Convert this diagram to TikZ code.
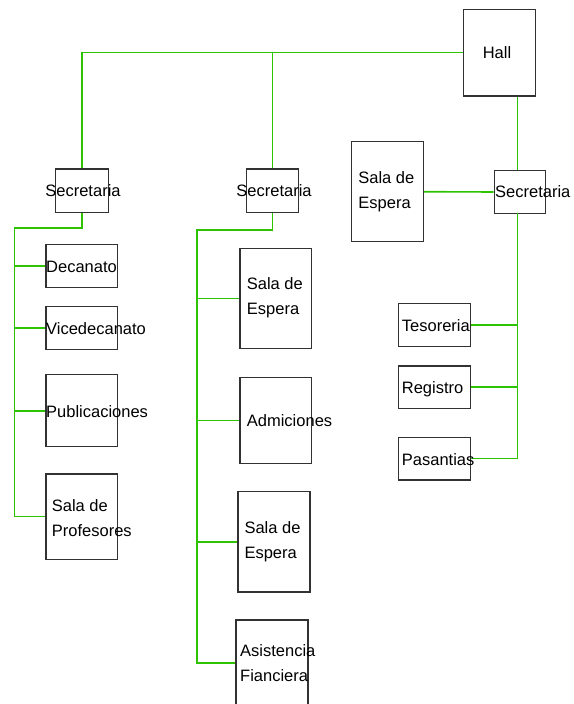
\documentclass[tikz,border=0pt]{standalone}
\usepackage{fontspec}
\setmainfont{Liberation Sans}
\definecolor{lineg}{RGB}{45,195,0}
\definecolor{boxc}{RGB}{50,50,50}
\begin{document}
\begin{tikzpicture}[x=1pt,y=-1pt,
  box/.style={draw=boxc,line width=1.1pt,rectangle,inner sep=0pt,minimum width=#1},
  lbl/.style={inner sep=0pt,font=\fontsize{16.5}{25}\selectfont,text=black},
  conn/.style={draw=lineg,line width=1.6pt}]
\useasboundingbox (0,0) rectangle (573,704);
% boxes: defined by corners
\newcommand{\bx}[5]{\node[box={#4-#2},minimum height={#5-#3}] (#1) at ({(#2+#4)/2},{(#3+#5)/2}) {};}
\bx{hall}{463.5}{9.3}{535.5}{96}
\bx{secA}{55.9}{169}{108.2}{212.3}
\bx{secB}{246.7}{169}{298.2}{212.3}
\bx{secC}{494.2}{170.7}{545.7}{213.3}
\bx{esperaR}{351.7}{141.7}{423.3}{241.7}
\bx{decanato}{46}{244.7}{117.7}{287.3}
\bx{vice}{46}{306.7}{117.7}{349.3}
\bx{publ}{46}{374.7}{117.7}{446.7}
\bx{prof}{46}{474}{117.7}{559.3}
\bx{esperaA}{240}{248.3}{311.7}{348.3}
\bx{admi}{240}{377.3}{311.7}{463.3}
\bx{esperaB}{238}{491.7}{310}{592}
\bx{asis}{236}{620}{308}{705.4}
\bx{teso}{398.7}{303.3}{470.7}{346.7}
\bx{regi}{398.7}{366}{470.7}{408.3}
\bx{pasa}{398.7}{437.3}{470.7}{480}
% junction coordinates
\coordinate (jA) at (14.5,227.7);
\coordinate (jB) at (196.7,230);
\coordinate (jC) at (517.5,213.3);
% connectors
\draw[conn] (hall.west) -| (secA.north);
\draw[conn] (hall.west -| secB.north) -- (secB.north);
\draw[conn] (hall.south -| jC) -- (secC.north -| jC);
\draw[conn] (esperaR.east) -- (secC.west);
\draw[conn] (secA.south) |- (jA) |- (prof.west);
\draw[conn] (jA |- decanato.west) -- (decanato.west);
\draw[conn] (jA |- vice.west) -- (vice.west);
\draw[conn] (jA |- publ.west) -- (publ.west);
\draw[conn] (secB.south) |- (jB) |- (asis.west);
\draw[conn] (jB |- esperaA.west) -- (esperaA.west);
\draw[conn] (jB |- admi.west) -- (admi.west);
\draw[conn] (jB |- esperaB.west) -- (esperaB.west);
\draw[conn] (jC) |- (pasa.east);
\draw[conn] (jC |- teso.east) -- (teso.east);
\draw[conn] (jC |- regi.east) -- (regi.east);
% labels
\node[lbl,anchor=base] (thall) at (497,58.7) {Hall};
\node[lbl,anchor=base] (tsecA) at (83,196) {Secretaria};
\node[lbl,anchor=base] (tsecB) at (274,196) {Secretaria};
\node[lbl,anchor=base west] (tsecC) at (495,197.7) {Secretaria};
\node[lbl,anchor=west,align=left] (tesperaR) at (358.2,191.5) {Sala de\\Espera};
\node[lbl,anchor=base west] (tdec) at (46,272) {Decanato};
\node[lbl,anchor=base west] (tvice) at (46,334) {Vicedecanato};
\node[lbl,anchor=base west] (tpubl) at (46,417) {Publicaciones};
\node[lbl,anchor=west,align=left] (tprof) at (51.7,518.5) {Sala de\\Profesores};
\node[lbl,anchor=west,align=left] (tesperaA) at (246.7,298) {Sala de\\Espera};
\node[lbl,anchor=base west] (tadmi) at (246.7,426.7) {Admiciones};
\node[lbl,anchor=west,align=left] (tesperaB) at (244.3,541.5) {Sala de\\Espera};
\node[lbl,anchor=west,align=left] (tasis) at (240,663.5) {Asistencia\\Fianciera};
\node[lbl,anchor=base west] (tteso) at (401.7,331) {Tesoreria};
\node[lbl,anchor=base west] (tregi) at (401.7,393.3) {Registro};
\node[lbl,anchor=base west] (tpasa) at (401.7,465.3) {Pasantias};
\end{tikzpicture}
\end{document}
